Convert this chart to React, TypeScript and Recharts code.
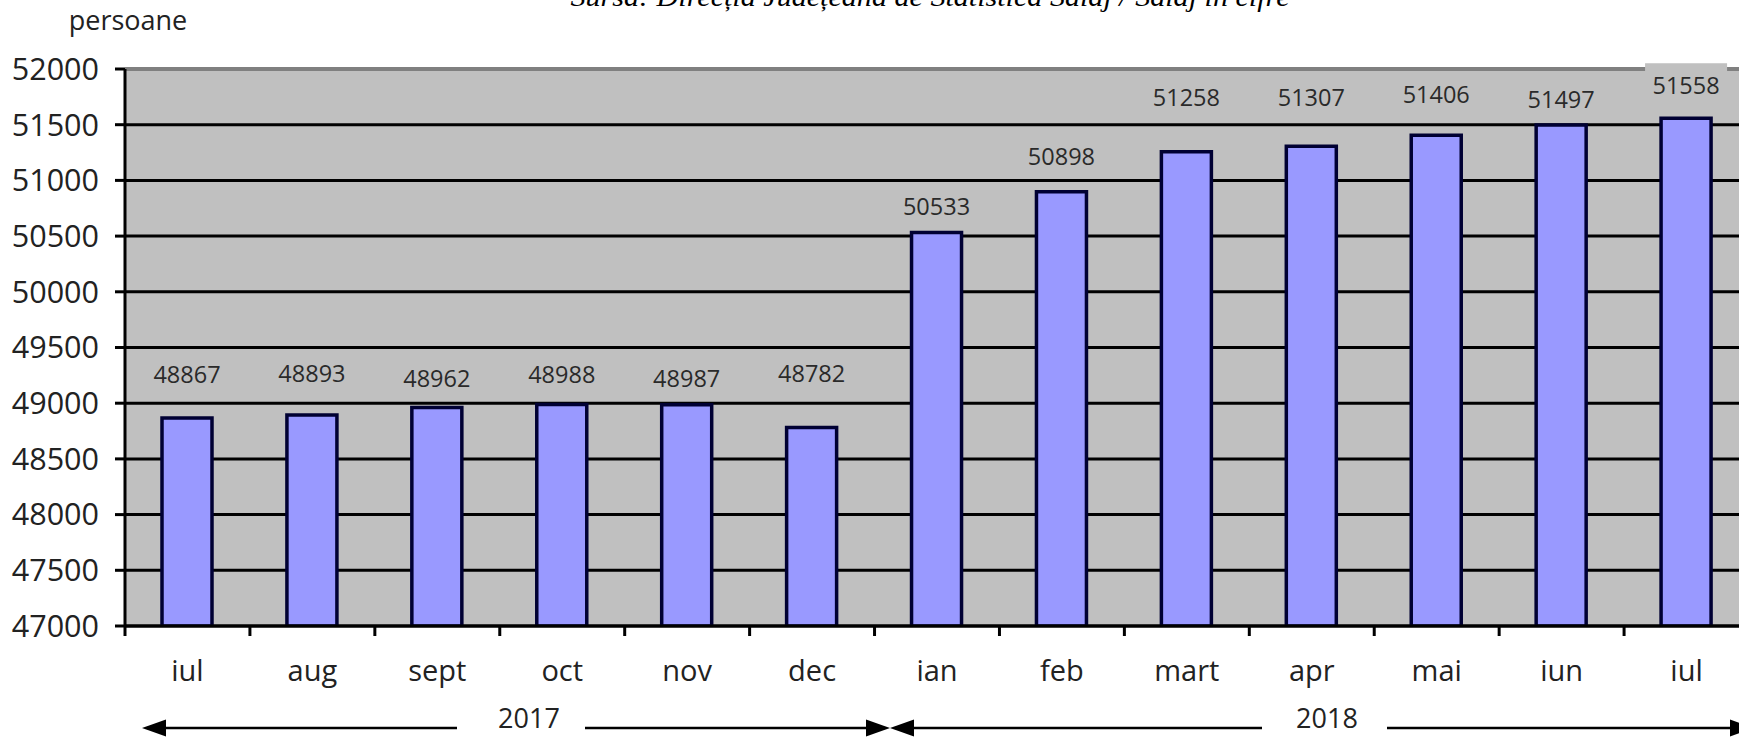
import { Bar, BarChart, CartesianGrid, LabelList, XAxis, YAxis } from 'recharts';

const months = ['iul', 'aug', 'sept', 'oct', 'nov', 'dec', 'ian', 'feb', 'mart', 'apr', 'mai', 'iun', 'iul'];
const persons = [48867, 48893, 48962, 48988, 48987, 48782, 50533, 50898, 51258, 51307, 51406, 51497, 51558];
const yTicks = [47000, 47500, 48000, 48500, 49000, 49500, 50000, 50500, 51000, 51500, 52000];
const years = ['2017', '2018'];

// how far each value label sits above its bar (px), as placed by hand in the source chart
const labelRaise = [44, 42, 29, 31, 27, 54, 26, 36, 55, 49, 41, 26, 33];

const FONT = '"Open Sans", "Noto Sans", sans-serif';
const INK = '#222';
const CHART_W = 1760;
const CHART_H = 737;
const PLOT_LEFT = 125;
const PLOT_TOP = 69;
const PLOT_BOTTOM = 626;
const PLOT_RIGHT = 1749;
const BAND = (PLOT_RIGHT - PLOT_LEFT) / months.length;

const chartData = months.map((m, i) => ({ key: `${m}-${i}`, month: m, value: persons[i] }));

function MonthTick(props: any) {
  const { x, payload } = props;
  const left = x - BAND / 2;
  return (
    <g>
      <line x1={left} x2={left} y1={PLOT_BOTTOM} y2={PLOT_BOTTOM + 10} stroke="#000" strokeWidth={3} />
      <text x={x} y={PLOT_BOTTOM + 43} textAnchor="middle" dominantBaseline="central" fontSize={29} fontFamily={FONT} fill={INK}>
        {months[payload.index] ?? payload.value}
      </text>
    </g>
  );
}

function GridLine(props: any) {
  const { x1, x2, y1, y2 } = props;
  const isTop = Math.abs(y1 - PLOT_TOP) < 2;
  return (
    <line
      x1={x1}
      x2={x2}
      y1={y1}
      y2={y2}
      stroke={isTop ? '#808080' : '#000'}
      strokeWidth={isTop ? 4 : 3}
    />
  );
}

function ValueLabel(props: any) {
  const { x, y, width, value } = props;
  let idx = props.index;
  if (idx == null) idx = persons.indexOf(Number(value));
  const cx = x + width / 2;
  const cy = y - (labelRaise[idx] ?? 30);
  return (
    <g>
      <rect x={cx - 41} y={cy - 22} width={82} height={44} fill="#C0C0C0" />
      <text x={cx} y={cy} textAnchor="middle" dominantBaseline="central" fontSize={23.5} fontFamily={FONT} fill="#2a2a2a">
        {value}
      </text>
    </g>
  );
}

function YearArrows() {
  const y = 728;
  const head = (tip: number, dir: 1 | -1) => {
    const base = tip - dir * 24;
    return `${tip},${y} ${base},${y - 8.5} ${base},${y + 8.5}`;
  };
  const line = { stroke: '#000', strokeWidth: 2.5 };
  return (
    <g>
      <polygon points={head(142, -1)} fill="#000" />
      <line x1={160} x2={457} y1={y} y2={y} {...line} />
      <text x={529} y={717} textAnchor="middle" dominantBaseline="central" fontSize={27} fontFamily={FONT} fill={INK}>
        {years[0]}
      </text>
      <line x1={585} x2={870} y1={y} y2={y} {...line} />
      <polygon points={head(890, 1)} fill="#000" />
      <polygon points={head(890, -1)} fill="#000" />
      <line x1={910} x2={1262} y1={y} y2={y} {...line} />
      <text x={1327} y={717} textAnchor="middle" dominantBaseline="central" fontSize={27} fontFamily={FONT} fill={INK}>
        {years[1]}
      </text>
      <line x1={1387} x2={1735} y1={y} y2={y} {...line} />
      <polygon points={head(1754, 1)} fill="#000" />
    </g>
  );
}

export default function App() {
  return (
    <div
      style={{
        position: 'fixed',
        left: 0,
        top: 0,
        width: 1739,
        height: 737,
        overflow: 'hidden',
        background: '#fff',
      }}
    >
      <BarChart
        width={CHART_W}
        height={CHART_H}
        data={chartData}
        margin={{ top: PLOT_TOP, right: CHART_W - PLOT_RIGHT, left: 0, bottom: 0 }}
      >
        <CartesianGrid vertical={false} horizontal={<GridLine />} fill="#C0C0C0" fillOpacity={1} />
        <XAxis
          dataKey="key"
          height={CHART_H - PLOT_BOTTOM}
          interval={0}
          tickLine={false}
          axisLine={{ stroke: '#000', strokeWidth: 3 }}
          tick={<MonthTick />}
        />
        <YAxis
          width={PLOT_LEFT}
          domain={[47000, 52000]}
          ticks={yTicks}
          allowDataOverflow
          interval={0}
          tickSize={10}
          tickMargin={16}
          tickLine={{ stroke: '#000', strokeWidth: 3 }}
          axisLine={{ stroke: '#000', strokeWidth: 3 }}
          tick={{ fontSize: 30.5, fill: INK, fontFamily: FONT }}
        />
        <Bar dataKey="value" fill="#9999FF" stroke="#000033" strokeWidth={3.5} barSize={50} isAnimationActive={false}>
          <LabelList dataKey="value" content={<ValueLabel />} />
        </Bar>
      </BarChart>
      <svg
        width={1739}
        height={737}
        style={{ position: 'absolute', left: 0, top: 0, pointerEvents: 'none' }}
      >
        <text
          x={930}
          y={6}
          textAnchor="middle"
          fontSize={27}
          fontStyle="italic"
          fontFamily='"Liberation Serif", "DejaVu Serif", serif'
          fill="#000"
          textLength={719}
          lengthAdjust="spacingAndGlyphs"
        >
          Sursa: Direcția Județeană de Statistică Sălaj / Sălaj în cifre
        </text>
        <text x={128} y={19} textAnchor="middle" dominantBaseline="central" fontSize={27} fontFamily={FONT} fill={INK}>
          persoane
        </text>
        <YearArrows />
      </svg>
    </div>
  );
}
